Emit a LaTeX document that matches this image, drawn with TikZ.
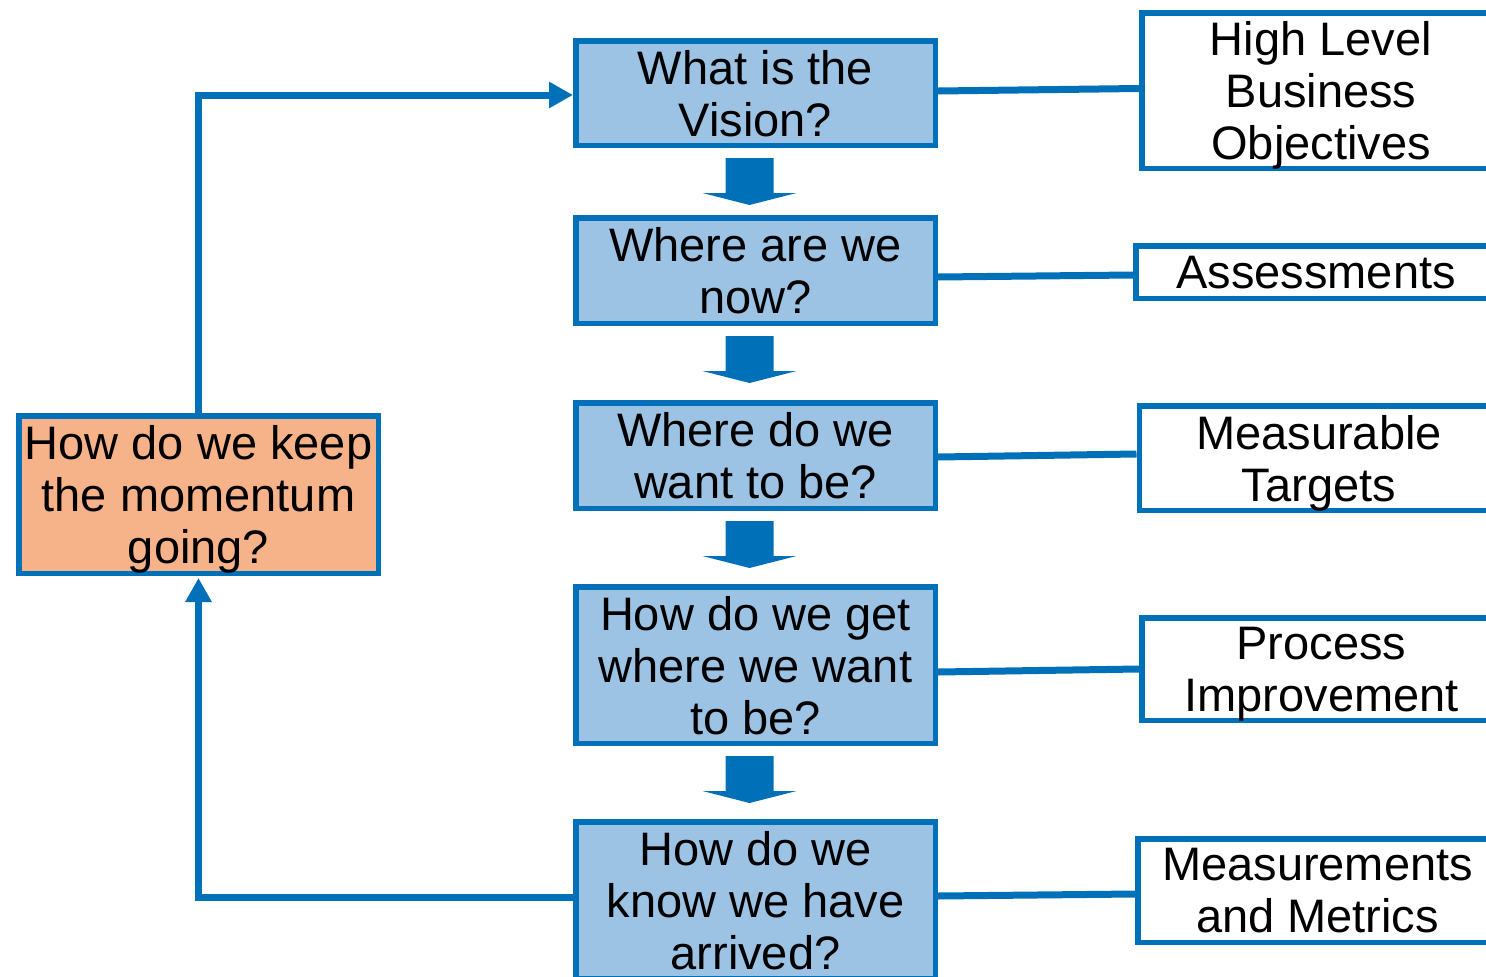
\documentclass[tikz,border=0pt]{standalone}
\usepackage{fontspec}
\setmainfont{Liberation Sans}
\usetikzlibrary{arrows.meta,calc}
\definecolor{mblue}{RGB}{0,112,184}
\definecolor{lblue}{RGB}{156,194,228}
\definecolor{lorange}{RGB}{246,178,136}
\tikzset{
  qbox/.style={draw=mblue, line width=5.5pt, fill=lblue, align=center, inner sep=0pt,
    minimum width=359.5pt, text depth=0pt, font=\fontsize{47}{52}\selectfont},
  obox/.style={qbox, fill=lorange},
  abox/.style={qbox, fill=white},
  link/.style={draw=mblue, line width=7pt},
  loopline/.style={link, -{Triangle[length=24pt,width=25pt]}},
}
\newcommand\blockdown[1]{\fill[mblue] ($(#1.south)+(-30,10)$) -- ++(48,0) -- ++(0,35) -- ++(23,0) -- ++(-47,12) -- ++(-47,-12) -- ++(23,0) -- cycle;}
\begin{document}
\begin{tikzpicture}[x=1pt,y=-1pt]
\useasboundingbox (0,0) rectangle (1486,977);
\clip (0,0) rectangle (1486,977);
% question boxes
\node[qbox, minimum height=104.5pt] (b1) at (755.5,93) {What is the\\Vision?};
\node[qbox, minimum height=105.5pt] (b2) at (755.5,270.5) {Where are we\\now?};
\node[qbox, minimum height=105.5pt] (b3) at (755.5,455.5) {Where do we\\want to be?};
\node[qbox, minimum height=156.5pt] (b4) at (755.5,665) {How do we get\\where we want\\to be?};
\node[qbox, minimum height=156.5pt] (b5) at (755.5,900) {How do we\\know we have\\arrived?};
\node[obox, minimum height=157.5pt] (o) at (198.5,494.5) {How do we keep\\the momentum\\going?};
% answer boxes
\node[abox, minimum width=358.5pt, minimum height=155.5pt] (r1) at (1321,90.5) {High Level\\Business\\Objectives};
\node[abox, minimum width=360.5pt, minimum height=52.5pt] (r2) at (1316,272) {Assessments};
\node[abox, minimum height=104.5pt] (r3) at (1319,458) {Measurable\\Targets};
\node[abox, minimum height=102.5pt] (r4) at (1321.5,669) {Process\\Improvement};
\node[abox, minimum height=103.5pt] (r5) at (1317.5,890.5) {Measurements\\and Metrics};
% block arrows
\blockdown{b1}
\blockdown{b2}
\blockdown{b3}
\blockdown{b4}
% links to answers
\draw[link] ([yshift=2pt]b1.east) -- ([yshift=2pt]r1.west);
\draw[link] ([yshift=-6.5pt]b2.east) -- ([yshift=-3pt]r2.west);
\draw[link] ([yshift=-1.5pt]b3.east) -- ([yshift=4pt]r3.west);
\draw[link] ([yshift=-7pt]b4.east) -- (r4.west);
\draw[link] ([yshift=4pt]b5.east) -- ([yshift=-3.5pt]r5.west);
% feedback loop
\draw[loopline, shorten >=2pt] ([yshift=3pt]b5.west) -| (o.south);
\draw[loopline] (o.north) |- ([yshift=-2pt]b1.west);
\end{tikzpicture}
\end{document}
